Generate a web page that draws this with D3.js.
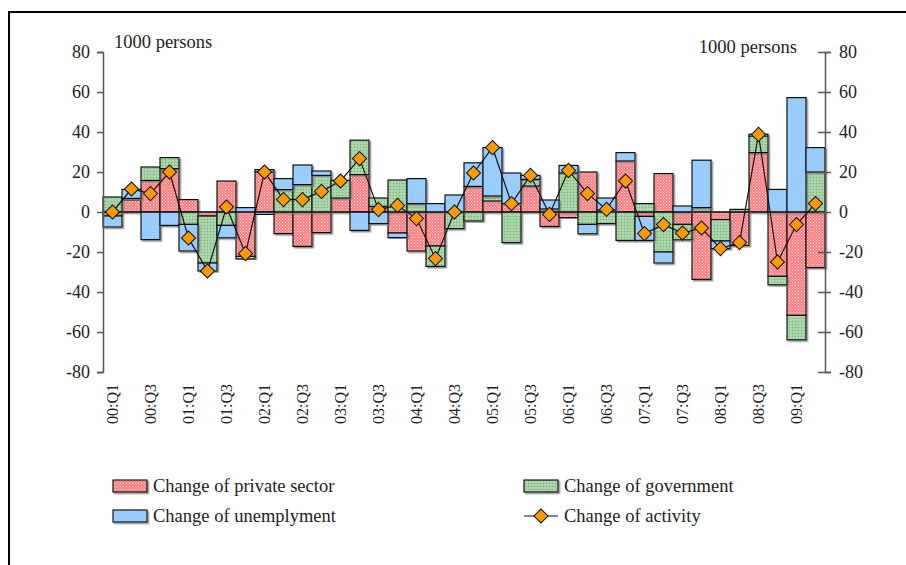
<!DOCTYPE html>
<html>
<head>
<meta charset="utf-8">
<script src="https://cdn.jsdelivr.net/npm/d3@7"></script>
<style>
  body { margin: 0; background: #fff; }
  svg text { font-family: "Liberation Serif", "DejaVu Serif", serif; fill: #222; }
</style>
</head>
<body>
<div id="chart"></div>
<script>
// quarters 00:Q1 .. 09:Q2
var quarters = ["00:Q1","00:Q2","00:Q3","00:Q4","01:Q1","01:Q2","01:Q3","01:Q4",
  "02:Q1","02:Q2","02:Q3","02:Q4","03:Q1","03:Q2","03:Q3","03:Q4",
  "04:Q1","04:Q2","04:Q3","04:Q4","05:Q1","05:Q2","05:Q3","05:Q4",
  "06:Q1","06:Q2","06:Q3","06:Q4","07:Q1","07:Q2","07:Q3","07:Q4",
  "08:Q1","08:Q2","08:Q3","08:Q4","09:Q1","09:Q2"];

var privateSector = [-2, 6, 15.8, 21.7, 6.2, -2, 15.5, -22.2, 20, -10.8, -17.2, -10.3, 7, 18.7, 2.8, -10.5,
  -19.5, -17, 0, 12.8, 5.5, 4.2, 13, -7.2, -2.8, 20, 1, 25.5, -2.2, 19.2, -6.2, -33.7,
  -3.8, -16.7, 29.7, -32.2, -51.7, -27.8];
var government = [7.5, 0.8, 6.7, 5.5, -6.2, -23.5, -6.7, -1.3, 1.2, 11.2, 13.7, 18.3, 8.8, 17.2, 4.2, 16,
  4.2, -10.2, -8.3, -4.5, 2.5, -15.3, 3.3, 1.5, 19.5, -6.2, -5.8, -14.2, 4.2, -20, -7.7, 2.2,
  -10.7, 1.3, 8.2, -4.2, -12.2, 20];
var unemployment = [-5.5, 4.5, -13.8, -6.7, -13.3, -4, -6.2, 2.2, -1.2, 5.5, 9.8, 2.2, 0, -9.2, -5.8, -2.3,
  12.5, 4.2, 8.5, 11.8, 24.2, 15.3, 2, 4.5, 3.8, -4.7, 6, 4.2, -12, -5.5, 3, 23.7,
  -3.8, 0, 1, 11.3, 57.2, 12.2];
var activity = [0, 11.5, 9.2, 20, -13, -29.5, 2.5, -20.8, 20, 6.2, 6.2, 10.3, 15.5, 26.7, 1.2, 3.3,
  -3.3, -23.3, 0, 19.5, 32.2, 4.2, 18.3, -1.2, 20.8, 9.2, 1.3, 15.5, -10.8, -6.3, -10.5, -8,
  -18.3, -15.3, 38.8, -25, -6.3, 4.2];

var yTicks = [-80, -60, -40, -20, 0, 20, 40, 60, 80];
var seriesNames = ["Change of private sector", "Change of government", "Change of unemplyment", "Change of activity"];

var W = 906, H = 565;
var plotL = 103, plotR = 825, plotT = 52, plotB = 372;

var svg = d3.select("#chart").append("svg").attr("width", W).attr("height", H);
var defs = svg.append("defs");

// patterns
var pRed = defs.append("pattern").attr("id", "patRed").attr("patternUnits", "userSpaceOnUse")
  .attr("width", 3).attr("height", 3);
pRed.append("rect").attr("width", 3).attr("height", 3).attr("fill", "#ff7f80");
pRed.append("rect").attr("x", 0).attr("y", 0).attr("width", 1).attr("height", 1).attr("fill", "#ffe0e0");
pRed.append("rect").attr("x", 1.5).attr("y", 1.5).attr("width", 1).attr("height", 1).attr("fill", "#ffc8c8");

var pGreen = defs.append("pattern").attr("id", "patGreen").attr("patternUnits", "userSpaceOnUse")
  .attr("width", 3).attr("height", 3);
pGreen.append("rect").attr("width", 3).attr("height", 3).attr("fill", "#a3d3a3");
pGreen.append("rect").attr("x", 0).attr("y", 0).attr("width", 1).attr("height", 1).attr("fill", "#78ae78");
pGreen.append("rect").attr("x", 1.5).attr("y", 1.5).attr("width", 1).attr("height", 1).attr("fill", "#c4e4c4");

var shadow = defs.append("filter").attr("id", "shadow").attr("x", "-20%").attr("y", "-20%")
  .attr("width", "140%").attr("height", "140%");
shadow.append("feDropShadow").attr("dx", 1.5).attr("dy", 1.5).attr("stdDeviation", 0.6)
  .attr("flood-color", "#777").attr("flood-opacity", 0.8);

var fills = ["url(#patRed)", "url(#patGreen)", "#99ccff"];

// chart frame
svg.append("line").attr("x1", 9).attr("x2", W).attr("y1", 12).attr("y2", 12)
  .attr("stroke", "#000").attr("stroke-width", 2);
svg.append("line").attr("x1", 9).attr("x2", 9).attr("y1", 11).attr("y2", H)
  .attr("stroke", "#000").attr("stroke-width", 2);

var x = d3.scaleBand().domain(quarters).range([plotL, plotR]).padding(0);
var y = d3.scaleLinear().domain([-80, 80]).range([plotB, plotT]);

var rows = quarters.map(function(q, i) {
  return { q: q, p: privateSector[i], g: government[i], u: unemployment[i] };
});
var stack = d3.stack().keys(["p", "g", "u"]).offset(d3.stackOffsetDiverging);
var layers = stack(rows);

var barG = svg.append("g");
layers.forEach(function(layer, k) {
  barG.append("g").selectAll("rect").data(layer.filter(function(d) { return d[0] !== d[1]; })).enter().append("rect")
    .attr("x", function(d) { return x(d.data.q); })
    .attr("width", x.bandwidth())
    .attr("y", function(d) { return y(Math.max(d[0], d[1])); })
    .attr("height", function(d) { return Math.abs(y(d[0]) - y(d[1])); })
    .attr("fill", fills[k])
    .attr("stroke", "#111")
    .attr("stroke-width", 1.2)
    .attr("filter", "url(#shadow)");
});

// zero line
svg.append("line").attr("x1", plotL).attr("x2", plotR).attr("y1", y(0)).attr("y2", y(0))
  .attr("stroke", "#111").attr("stroke-width", 1.2);

// axes (plain hyphen for negatives, as in the original)
var fmt = function(d) { return String(d); };
var leftAxis = d3.axisLeft(y).tickValues(yTicks).tickFormat(fmt).tickSize(6).tickPadding(7);
var gl = svg.append("g").attr("transform", "translate(" + plotL + ",0)").call(leftAxis);
var rightAxis = d3.axisRight(y).tickValues(yTicks).tickFormat(fmt).tickSize(6).tickPadding(8);
var gr = svg.append("g").attr("transform", "translate(" + plotR + ",0)").call(rightAxis);
gr.selectAll(".tick line").attr("x1", -7).attr("x2", 6);
[gl, gr].forEach(function(g) {
  g.select(".domain").attr("stroke", "#555").attr("stroke-width", 1.5);
  g.selectAll(".tick line").attr("stroke", "#555").attr("stroke-width", 1.5);
  g.selectAll(".tick text").attr("font-size", 18).attr("fill", "#222")
    .attr("font-family", "Liberation Serif, serif");
});

// x labels, every second quarter
var xl = svg.append("g");
xl.selectAll("text").data(quarters.filter(function(q, i) { return i % 2 === 0; })).enter()
  .append("text")
  .attr("transform", function(q) {
    return "translate(" + (x(q) + x.bandwidth() / 2) + ",384) rotate(-90)";
  })
  .attr("text-anchor", "end")
  .attr("dy", "0.35em")
  .attr("font-size", 16)
  .text(function(q) { return q; });

// unit labels
svg.append("text").attr("x", 114).attr("y", 48).attr("font-size", 18.5).text("1000 persons");
svg.append("text").attr("x", 797).attr("y", 53).attr("text-anchor", "end").attr("font-size", 18.5).text("1000 persons");

// activity line
var line = d3.line()
  .x(function(d, i) { return x(quarters[i]) + x.bandwidth() / 2; })
  .y(function(d) { return y(d); });
svg.append("path").datum(activity).attr("d", line)
  .attr("fill", "none").attr("stroke", "#111").attr("stroke-width", 1.2);

svg.append("g").selectAll("path").data(activity).enter().append("path")
  .attr("transform", function(d, i) {
    return "translate(" + (x(quarters[i]) + x.bandwidth() / 2) + "," + y(d) + ") rotate(45)";
  })
  .attr("d", d3.symbol().type(d3.symbolSquare).size(100))
  .attr("fill", "#ff9900").attr("stroke", "#111").attr("stroke-width", 1);

// legend
var legendItems = [
  { name: seriesNames[0], fill: fills[0], x: 113, y: 486 },
  { name: seriesNames[1], fill: fills[1], x: 524, y: 486 },
  { name: seriesNames[2], fill: fills[2], x: 113, y: 516 },
  { name: seriesNames[3], fill: null, x: 524, y: 516 }
];
var lg = svg.append("g");
legendItems.forEach(function(it) {
  if (it.fill) {
    lg.append("rect").attr("x", it.x).attr("y", it.y - 6).attr("width", 34).attr("height", 12)
      .attr("fill", it.fill).attr("stroke", "#111").attr("stroke-width", 1.2)
      .attr("filter", "url(#shadow)");
  } else {
    lg.append("line").attr("x1", it.x).attr("x2", it.x + 34).attr("y1", it.y).attr("y2", it.y)
      .attr("stroke", "#111").attr("stroke-width", 1.2);
    lg.append("path").attr("transform", "translate(" + (it.x + 17) + "," + it.y + ") rotate(45)")
      .attr("d", d3.symbol().type(d3.symbolSquare).size(100))
      .attr("fill", "#ff9900").attr("stroke", "#111").attr("stroke-width", 1);
  }
  lg.append("text").attr("x", it.x + 40).attr("y", it.y).attr("dy", "0.35em")
    .attr("font-size", 18.5).text(it.name);
});
</script>
</body>
</html>
